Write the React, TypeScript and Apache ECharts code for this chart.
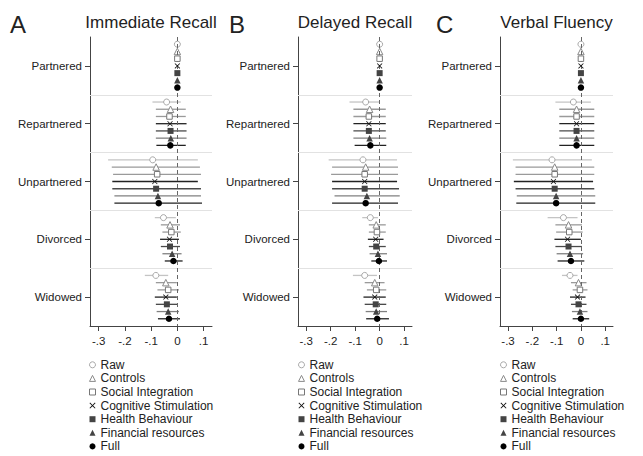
import React, { useEffect, useRef } from 'react';
import * as echarts from 'echarts';

const groups = ['Partnered', 'Repartnered', 'Unpartnered', 'Divorced', 'Widowed'];
const models = ['Raw', 'Controls', 'Social Integration', 'Cognitive Stimulation', 'Health Behaviour', 'Financial resources', 'Full'];
const panelTitles = ['Immediate Recall', 'Delayed Recall', 'Verbal Fluency'];
const panelLetters = ['A', 'B', 'C'];
const xTicks = [-0.3, -0.2, -0.1, 0, 0.1];

// Estimates and confidence bounds, [group][model]
const immediateEst = [
  [0, 0, 0, 0, 0, 0, 0],
  [-0.041, -0.026, -0.030, -0.028, -0.026, -0.025, -0.027],
  [-0.094, -0.081, -0.077, -0.086, -0.081, -0.074, -0.071],
  [-0.053, -0.028, -0.023, -0.030, -0.028, -0.020, -0.015],
  [-0.082, -0.044, -0.035, -0.044, -0.040, -0.035, -0.032],
];
const immediateLo = [
  [0, 0, 0, 0, 0, 0, 0],
  [-0.095, -0.082, -0.082, -0.082, -0.082, -0.082, -0.080],
  [-0.264, -0.250, -0.245, -0.248, -0.248, -0.240, -0.240],
  [-0.086, -0.063, -0.057, -0.066, -0.063, -0.057, -0.048],
  [-0.124, -0.082, -0.076, -0.086, -0.082, -0.079, -0.074],
];
const immediateHi = [
  [0, 0, 0, 0, 0, 0, 0],
  [0.013, 0.032, 0.032, 0.035, 0.035, 0.035, 0.032],
  [0.078, 0.086, 0.090, 0.078, 0.090, 0.090, 0.094],
  [-0.006, 0.010, 0.013, 0.006, 0.010, 0.016, 0.020],
  [-0.035, -0.002, 0.006, -0.002, 0.002, 0.006, 0.010],
];

const delayedEst = [
  [0, 0, 0, 0, 0, 0, 0],
  [-0.057, -0.041, -0.044, -0.044, -0.044, -0.041, -0.038],
  [-0.068, -0.057, -0.061, -0.061, -0.061, -0.052, -0.057],
  [-0.038, -0.014, -0.011, -0.016, -0.014, -0.007, -0.003],
  [-0.061, -0.020, -0.014, -0.020, -0.016, -0.014, -0.010],
];
const delayedLo = [
  [0, 0, 0, 0, 0, 0, 0],
  [-0.123, -0.107, -0.107, -0.107, -0.107, -0.107, -0.102],
  [-0.208, -0.194, -0.198, -0.194, -0.194, -0.184, -0.194],
  [-0.071, -0.044, -0.044, -0.048, -0.044, -0.041, -0.034],
  [-0.109, -0.061, -0.052, -0.066, -0.061, -0.057, -0.055],
];
const delayedHi = [
  [0, 0, 0, 0, 0, 0, 0],
  [0.000, 0.025, 0.025, 0.025, 0.025, 0.027, 0.027],
  [0.071, 0.075, 0.075, 0.071, 0.079, 0.082, 0.075],
  [-0.007, 0.025, 0.025, 0.016, 0.025, 0.030, 0.030],
  [-0.011, 0.020, 0.027, 0.025, 0.027, 0.030, 0.038],
];

const fluencyEst = [
  [0, 0, 0, 0, 0, 0, 0],
  [-0.031, -0.018, -0.018, -0.018, -0.018, -0.018, -0.018],
  [-0.119, -0.108, -0.108, -0.113, -0.108, -0.102, -0.102],
  [-0.072, -0.051, -0.048, -0.055, -0.051, -0.045, -0.041],
  [-0.045, -0.010, -0.004, -0.014, -0.010, -0.004, 0.000],
];
const fluencyLo = [
  [0, 0, 0, 0, 0, 0, 0],
  [-0.105, -0.089, -0.089, -0.089, -0.089, -0.089, -0.089],
  [-0.280, -0.269, -0.269, -0.276, -0.269, -0.264, -0.266],
  [-0.137, -0.105, -0.102, -0.109, -0.105, -0.100, -0.096],
  [-0.078, -0.041, -0.034, -0.045, -0.041, -0.037, -0.034],
];
const fluencyHi = [
  [0, 0, 0, 0, 0, 0, 0],
  [0.041, 0.055, 0.055, 0.055, 0.055, 0.055, 0.055],
  [0.045, 0.055, 0.055, 0.050, 0.055, 0.059, 0.059],
  [-0.014, 0.004, 0.007, 0.000, 0.004, 0.009, 0.014],
  [-0.014, 0.023, 0.027, 0.019, 0.023, 0.027, 0.034],
];

const panelEst = [immediateEst, delayedEst, fluencyEst];
const panelLo = [immediateLo, delayedLo, fluencyLo];
const panelHi = [immediateHi, delayedHi, fluencyHi];

// ---- styling / layout (not data) ----
const FONT = '"Liberation Sans", Arial, Helvetica, sans-serif';
const crossPath = 'path://M1,0L5,4L9,0L10,1L6,5L10,9L9,10L5,6L1,10L0,9L4,5L0,1Z';
const symbolSpec = [
  { symbol: 'circle', size: 6, fill: '#ffffff', stroke: '#a8a8a8', bw: 1 },
  { symbol: 'triangle', size: 6.5, fill: '#ffffff', stroke: '#8a8a8a', bw: 1 },
  { symbol: 'rect', size: 5.5, fill: '#ffffff', stroke: '#777777', bw: 1 },
  { symbol: crossPath, size: 5.5, fill: '#111111', stroke: '#111111', bw: 0 },
  { symbol: 'rect', size: 6, fill: '#444444', stroke: '#444444', bw: 0 },
  { symbol: 'triangle', size: 6.5, fill: '#444444', stroke: '#444444', bw: 0 },
  { symbol: 'circle', size: 6.5, fill: '#000000', stroke: '#000000', bw: 0 },
];
const ciColors = ['#c4c4c4', '#9a9a9a', '#9a9a9a', '#222222', '#4a4a4a', '#808080', '#222222'];

const grids = [
  { left: 90, width: 122 },
  { left: 298, width: 114 },
  { left: 500, width: 113 },
];
const GRID_TOP = 37;
const GRID_H = 289;
const X_MIN = -0.333;
const X_MAX = 0.132;
const letterX = [10, 229, 436];
const legendLeft = [89, 298, 500];

const yOf = (g: number, m: number) => 4 + 8 * g + (m - 3);
const fmtX = (v: number) => (Math.abs(v) < 1e-9 ? '0' : (v < 0 ? '-' : '') + '.' + Math.round(Math.abs(v) * 10));

function buildOption() {
  const grid: any[] = [];
  const xAxis: any[] = [];
  const yAxis: any[] = [];
  const series: any[] = [];
  const legend: any[] = [];
  const graphic: any[] = [];

  for (let p = 0; p < 3; p++) {
    const gcfg = grids[p];
    grid.push({ left: gcfg.left, width: gcfg.width, top: GRID_TOP, height: GRID_H, containLabel: false });
    xAxis.push({
      type: 'value',
      gridIndex: p,
      position: 'bottom',
      min: X_MIN,
      max: X_MAX,
      axisLine: { show: true, onZero: false, lineStyle: { color: '#444', width: 1 } },
      axisTick: { show: true, length: 5, customValues: xTicks, lineStyle: { color: '#444' } },
      axisLabel: { customValues: xTicks, formatter: fmtX, fontSize: 11.5, color: '#222', margin: 9, fontFamily: FONT },
      splitLine: { show: false },
    });
    const yVals = groups.map((_, g) => yOf(g, 3));
    yAxis.push({
      type: 'value',
      gridIndex: p,
      position: 'left',
      inverse: true,
      min: 0,
      max: 40,
      axisLine: { show: true, onZero: false, lineStyle: { color: '#444', width: 1 } },
      axisTick: { show: true, length: 5, customValues: yVals, lineStyle: { color: '#444' } },
      axisLabel: {
        customValues: yVals,
        formatter: (v: number) => groups[Math.round((v - 4) / 8)] ?? '',
        fontSize: 11.5,
        color: '#222',
        margin: 8,
        fontFamily: FONT,
      },
      splitLine: { show: false },
    });

    const ciData: number[][] = [];
    for (let g = 0; g < groups.length; g++) {
      for (let m = 0; m < models.length; m++) {
        const lo = panelLo[p][g][m];
        const hi = panelHi[p][g][m];
        if (hi > lo) ciData.push([lo, hi, yOf(g, m), m]);
      }
    }
    series.push({
      type: 'custom',
      name: 'CI' + p,
      xAxisIndex: p,
      yAxisIndex: p,
      z: 1,
      silent: true,
      encode: { x: [0, 1], y: 2 },
      data: ciData,
      renderItem: (params: any, api: any) => {
        const lo = api.value(0);
        const hi = api.value(1);
        const y = api.value(2);
        const m = api.value(3);
        const a = api.coord([lo, y]);
        const b = api.coord([hi, y]);
        return {
          type: 'line',
          shape: { x1: a[0], y1: a[1], x2: b[0], y2: b[1] },
          style: { stroke: ciColors[m], lineWidth: 1.3 },
        };
      },
      markLine: {
        silent: true,
        symbol: ['none', 'none'],
        label: { show: false },
        animation: false,
        data: [
          { yAxis: 8, lineStyle: { color: '#e2e2e2', type: 'solid', width: 1 } },
          { yAxis: 16, lineStyle: { color: '#e2e2e2', type: 'solid', width: 1 } },
          { yAxis: 24, lineStyle: { color: '#e2e2e2', type: 'solid', width: 1 } },
          { yAxis: 32, lineStyle: { color: '#e2e2e2', type: 'solid', width: 1 } },
          { xAxis: 0, lineStyle: { color: '#666', type: [4, 3], width: 1 } },
        ],
      },
    });

    for (let m = 0; m < models.length; m++) {
      const sp = symbolSpec[m];
      series.push({
        type: 'scatter',
        name: models[m],
        xAxisIndex: p,
        yAxisIndex: p,
        z: 3 + m,
        symbol: sp.symbol,
        symbolSize: sp.size,
        itemStyle: { color: sp.fill, borderColor: sp.stroke, borderWidth: sp.bw, opacity: 1 },
        emphasis: { disabled: true },
        data: groups.map((_, g) => [panelEst[p][g][m], yOf(g, m)]),
      });
    }

    legend.push({
      orient: 'vertical',
      left: legendLeft[p],
      top: 358,
      itemWidth: 6,
      itemHeight: 6,
      itemGap: 0,
      padding: 0,
      selectedMode: false,
      textStyle: { fontSize: 12, color: '#222', fontFamily: FONT, lineHeight: 13.6, padding: [0, 0, 0, 0] },
      data: models.map((name, m) => ({
        name,
        icon: symbolSpec[m].symbol,
        itemStyle: { color: symbolSpec[m].fill, borderColor: symbolSpec[m].stroke, borderWidth: symbolSpec[m].bw },
      })),
    });

    graphic.push({
      type: 'text',
      x: letterX[p],
      y: 24,
      style: { text: panelLetters[p], fontSize: 24, fill: '#222', fontFamily: FONT, align: 'left', verticalAlign: 'middle' },
    });
    graphic.push({
      type: 'text',
      x: gcfg.left + gcfg.width / 2,
      y: 22,
      style: { text: panelTitles[p], fontSize: 17, fill: '#222', fontFamily: FONT, align: 'center', verticalAlign: 'middle' },
    });
  }

  return {
    animation: false,
    backgroundColor: '#ffffff',
    textStyle: { fontFamily: FONT },
    grid,
    xAxis,
    yAxis,
    legend,
    graphic,
    series,
  };
}

export default function App() {
  const ref = useRef<HTMLDivElement>(null);
  useEffect(() => {
    if (!ref.current) return;
    const chart = echarts.init(ref.current, undefined, { renderer: 'svg' });
    chart.setOption(buildOption() as any);
    return () => chart.dispose();
  }, []);
  return <div ref={ref} style={{ position: 'absolute', left: 0, top: 0, width: 643, height: 456 }} />;
}
